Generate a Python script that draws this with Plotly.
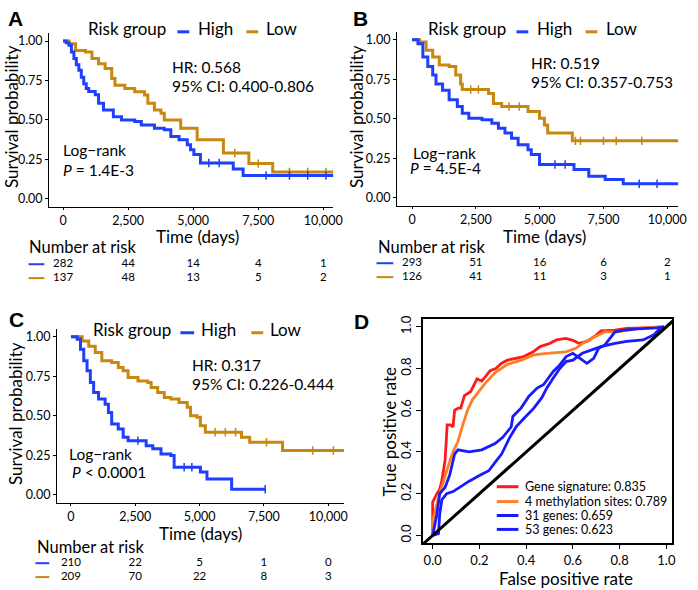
import numpy as np
import plotly.graph_objects as go

W, H = 698, 590
FONT = "Lato"
BLUE = "#1F3FFF"
GOLD = "#C8870F"

# ---------------- data ----------------
RISK_TIMES = [0, 2500, 5000, 7500, 10000]
TICK_LABELS_X = ["0", "2,500", "5,000", "7,500", "10,000"]
TICK_VALS_Y = [0, 0.25, 0.5, 0.75, 1.0]
TICK_LABELS_Y = ["0.00", "0.25", "0.50", "0.75", "1.00"]

# Panel A
A_HIGH_T = [0, 120, 227, 320, 417, 510, 606, 700, 795, 890, 985, 1237, 1364, 1553, 1932, 2247, 2752, 3005, 3510, 3889, 4141, 4457, 4773, 4899, 5026, 5278, 6540, 6919, 10500]
A_HIGH_S = [1.0, 0.99, 0.973, 0.93, 0.889, 0.85, 0.815, 0.77, 0.73, 0.70, 0.68, 0.66, 0.605, 0.563, 0.52, 0.50, 0.49, 0.468, 0.447, 0.437, 0.395, 0.374, 0.342, 0.311, 0.28, 0.227, 0.189, 0.147, 0.147]
A_LOW_T = [0, 227, 480, 858, 1111, 1364, 1616, 1869, 1995, 2374, 2753, 3131, 3258, 3510, 3763, 3889, 4520, 5152, 6161, 7140, 8055, 10500]
A_LOW_S = [1.0, 0.983, 0.94, 0.93, 0.889, 0.857, 0.826, 0.763, 0.72, 0.70, 0.678, 0.658, 0.605, 0.563, 0.542, 0.50, 0.447, 0.374, 0.29, 0.223, 0.17, 0.17]
A_HIGH_CENS = [5600, 6000, 7800, 8700, 9400, 10100]
A_LOW_CENS = [6600, 7500, 8700, 9400, 10100]
A_RISK_HIGH = [282, 44, 14, 4, 1]
A_RISK_LOW = [137, 48, 13, 5, 2]

# Panel B
B_HIGH_T = [0, 232, 425, 618, 811, 940, 1197, 1454, 1776, 1969, 2226, 2741, 3127, 3385, 3642, 3900, 4157, 4543, 4672, 4993, 6345, 6924, 7568, 8275, 10500]
B_HIGH_S = [1.0, 0.975, 0.89, 0.83, 0.776, 0.72, 0.68, 0.62, 0.577, 0.535, 0.503, 0.493, 0.472, 0.44, 0.41, 0.377, 0.335, 0.304, 0.273, 0.21, 0.178, 0.136, 0.115, 0.088, 0.088]
B_LOW_T = [0, 296, 553, 811, 1068, 1454, 1712, 1905, 1969, 2999, 3192, 3513, 4543, 4993, 5186, 5315, 6280, 10500]
B_LOW_S = [1.0, 0.985, 0.933, 0.89, 0.84, 0.83, 0.776, 0.72, 0.685, 0.66, 0.597, 0.577, 0.545, 0.503, 0.461, 0.41, 0.36, 0.36]
B_HIGH_CENS = [5600, 6000, 8900, 9600]
B_LOW_CENS = [2300, 2600, 3800, 4200, 6400, 6600, 7500, 8000, 9000]
B_RISK_HIGH = [293, 51, 16, 6, 2]
B_RISK_LOW = [126, 41, 11, 3, 1]

# Panel C
C_HIGH_T = [0, 243, 370, 498, 626, 754, 881, 1073, 1328, 1456, 1583, 1839, 2030, 2222, 2924, 3180, 3499, 3882, 4010, 5031, 5287, 6245, 7550]
C_HIGH_S = [1.0, 0.983, 0.92, 0.847, 0.784, 0.71, 0.647, 0.605, 0.573, 0.52, 0.447, 0.416, 0.363, 0.342, 0.31, 0.29, 0.258, 0.248, 0.174, 0.143, 0.10, 0.034, 0.034]
C_LOW_T = [0, 434, 690, 945, 1200, 1583, 1839, 2030, 2222, 2605, 2988, 3116, 3371, 3627, 3882, 4201, 4520, 4648, 4903, 5031, 5223, 6628, 6947, 8224, 10800]
C_LOW_S = [1.0, 0.973, 0.94, 0.90, 0.847, 0.836, 0.805, 0.784, 0.742, 0.72, 0.71, 0.678, 0.647, 0.615, 0.605, 0.584, 0.553, 0.50, 0.49, 0.437, 0.395, 0.363, 0.332, 0.28, 0.28]
C_HIGH_CENS = [2600, 4400, 4700, 7550]
C_LOW_CENS = [5600, 6000, 6400, 7600, 9400, 10200]
C_RISK_HIGH = [210, 22, 5, 1, 0]
C_RISK_LOW = [209, 70, 22, 8, 3]

# Panel D (ROC)
ROC_NAMES = ["Gene signature: 0.835", "4 methylation sites: 0.789", "31 genes: 0.659", "53 genes: 0.623"]
ROC_COLORS = ["#FF1A1A", "#FF7F24", "#1A1AFF", "#1A1AFF"]
GS_FPR = [0, 0, 0.018, 0.03, 0.039, 0.053, 0.058, 0.062, 0.075, 0.087, 0.094, 0.11, 0.12, 0.136, 0.15, 0.163, 0.19, 0.21, 0.225, 0.246, 0.27, 0.295, 0.32, 0.36, 0.39, 0.43, 0.46, 0.50, 0.53, 0.57, 0.60, 0.627, 0.66, 0.70, 0.72, 0.78, 0.83, 0.90, 0.99]
GS_TPR = [0, 0.16, 0.20, 0.22, 0.26, 0.36, 0.45, 0.53, 0.53, 0.52, 0.60, 0.61, 0.61, 0.67, 0.68, 0.69, 0.75, 0.74, 0.76, 0.79, 0.80, 0.825, 0.84, 0.85, 0.857, 0.88, 0.905, 0.92, 0.937, 0.944, 0.935, 0.92, 0.93, 0.96, 0.98, 0.984, 0.992, 0.995, 1.0]
ME_FPR = [0, 0, 0.025, 0.046, 0.066, 0.087, 0.108, 0.129, 0.149, 0.17, 0.198, 0.225, 0.267, 0.32, 0.378, 0.433, 0.488, 0.57, 0.613, 0.654, 0.71, 0.737, 0.79, 0.875, 0.96, 0.99]
ME_TPR = [0, 0.07, 0.18, 0.26, 0.33, 0.40, 0.45, 0.53, 0.60, 0.65, 0.69, 0.73, 0.78, 0.82, 0.84, 0.865, 0.873, 0.88, 0.897, 0.93, 0.96, 0.976, 0.976, 0.99, 1.0, 1.0]
G31_FPR = [0, 0.018, 0.03, 0.053, 0.073, 0.094, 0.108, 0.156, 0.21, 0.267, 0.30, 0.336, 0.343, 0.378, 0.412, 0.447, 0.474, 0.495, 0.516, 0.544, 0.571, 0.60, 0.627, 0.66, 0.689, 0.71, 0.737, 0.758, 0.78, 0.82, 0.875, 0.96, 0.99]
G31_TPR = [0, 0.10, 0.20, 0.23, 0.29, 0.39, 0.41, 0.40, 0.41, 0.44, 0.47, 0.52, 0.57, 0.61, 0.667, 0.706, 0.722, 0.754, 0.786, 0.817, 0.857, 0.873, 0.85, 0.825, 0.849, 0.897, 0.913, 0.944, 0.976, 0.984, 0.99, 0.995, 1.0]
G53_FPR = [0, 0.025, 0.03, 0.039, 0.06, 0.087, 0.115, 0.156, 0.198, 0.24, 0.267, 0.295, 0.33, 0.357, 0.39, 0.433, 0.467, 0.488, 0.516, 0.544, 0.571, 0.60, 0.64, 0.68, 0.72, 0.78, 0.83, 0.90, 0.945, 0.98]
G53_TPR = [0, 0.008, 0.10, 0.17, 0.20, 0.21, 0.23, 0.26, 0.286, 0.31, 0.35, 0.39, 0.47, 0.52, 0.56, 0.61, 0.66, 0.706, 0.754, 0.80, 0.833, 0.84, 0.873, 0.889, 0.905, 0.92, 0.93, 0.937, 0.96, 1.0]
ROC_FPR = [GS_FPR, ME_FPR, G31_FPR, G53_FPR]
ROC_TPR = [GS_TPR, ME_TPR, G31_TPR, G53_TPR]


def fx(px):
    return px / W


def fy(py):
    return 1 - py / H


fig = go.Figure()

km_panels = [
    ("", "5", A_HIGH_T, A_HIGH_S, A_LOW_T, A_LOW_S, A_HIGH_CENS, A_LOW_CENS, A_RISK_HIGH, A_RISK_LOW),
    ("2", "6", B_HIGH_T, B_HIGH_S, B_LOW_T, B_LOW_S, B_HIGH_CENS, B_LOW_CENS, B_RISK_HIGH, B_RISK_LOW),
    ("3", "7", C_HIGH_T, C_HIGH_S, C_LOW_T, C_LOW_S, C_HIGH_CENS, C_LOW_CENS, C_RISK_HIGH, C_RISK_LOW),
]


def step_at(T, S, t):
    T = np.asarray(T)
    S = np.asarray(S)
    idx = np.searchsorted(T, t, side="right") - 1
    return S[np.clip(idx, 0, len(S) - 1)]


for suf, tsuf, hT, hS, lT, lS, hC, lC, rH, rL in km_panels:
    xa, ya = "x" + suf, "y" + suf
    for T, S, C, col in [(lT, lS, lC, GOLD), (hT, hS, hC, BLUE)]:
        fig.add_trace(go.Scatter(x=T, y=S, mode="lines", line=dict(color=col, width=3, shape="hv"),
                                 xaxis=xa, yaxis=ya, showlegend=False, hoverinfo="skip"))
        cy = step_at(T, S, C)
        fig.add_trace(go.Scatter(x=C, y=cy, mode="markers",
                                 marker=dict(symbol="line-ns", size=6, line=dict(color=col, width=1.5)),
                                 xaxis=xa, yaxis=ya, showlegend=False, hoverinfo="skip"))
    txa, tya = "x" + tsuf, "y" + tsuf
    for yv, vals in [(1, rH), (0, rL)]:
        fig.add_trace(go.Scatter(x=RISK_TIMES, y=[yv] * 5, mode="text", text=[str(v) for v in vals],
                                 textfont=dict(family=FONT, size=11.5, color="black"), cliponaxis=False,
                                 xaxis=txa, yaxis=tya, showlegend=False, hoverinfo="skip"))

# ROC
for f, t, c in zip(ROC_FPR, ROC_TPR, ROC_COLORS):
    fig.add_trace(go.Scatter(x=f, y=t, mode="lines", line=dict(color=c, width=2.8),
                             xaxis="x4", yaxis="y4", showlegend=False, hoverinfo="skip"))
fig.add_trace(go.Scatter(x=[-0.06, 1.06], y=[-0.06, 1.06], mode="lines", line=dict(color="black", width=3),
                         xaxis="x4", yaxis="y4", showlegend=False, hoverinfo="skip"))

km_ax = dict(showline=True, linecolor="black", linewidth=1.3, ticks="outside", ticklen=3, tickcolor="black",
             tickwidth=1.3, showgrid=False, zeroline=False,
             tickfont=dict(family=FONT, size=12.5, color="black"))

layout = dict(width=W, height=H, margin=dict(l=0, r=0, t=0, b=0), plot_bgcolor="white",
              paper_bgcolor="white", showlegend=False, font=dict(family=FONT, color="black"))

km_geom = {
    "": ((50, 338), (-530, 10379), (204, 29.4)),
    "2": ((403, 688), (-579, 10425), (203, 28)),
    "3": ((58, 349), (-536, 10613), (502, 327)),
}
for suf, (xd, xr, yd) in km_geom.items():
    layout["xaxis" + suf] = dict(km_ax, domain=[fx(xd[0]), fx(xd[1])], range=list(xr), ticklen=2,
                                 tickvals=RISK_TIMES, ticktext=TICK_LABELS_X, anchor="y" + suf)
    layout["yaxis" + suf] = dict(km_ax, domain=[fy(yd[0]), fy(yd[1])], range=[-0.05, 1.05],
                                 tickvals=TICK_VALS_Y, ticktext=TICK_LABELS_Y, anchor="x" + suf)

# risk-table rows: (blue row px, orange row px)
tbl_geom = {"5": ("", (262, 276)), "6": ("2", (261, 275)), "7": ("3", (563, 577))}
for tsuf, (psuf, (r1, r0)) in tbl_geom.items():
    xd, xr, _ = km_geom[psuf]
    step = r0 - r1
    layout["xaxis" + tsuf] = dict(domain=[fx(xd[0]), fx(xd[1])], range=list(xr), visible=False, anchor="y" + tsuf)
    layout["yaxis" + tsuf] = dict(domain=[fy(r0 + step / 2), fy(r1 - step / 2)], range=[-0.5, 1.5],
                                  visible=False, anchor="x" + tsuf)

roc_ticks = [0, 0.2, 0.4, 0.6, 0.8, 1.0]
roc_labels = ["0.0", "0.2", "0.4", "0.6", "0.8", "1.0"]
layout["xaxis4"] = dict(domain=[fx(429), fx(682)], range=[-0.042, 1.025], showline=True, mirror=True,
                        linecolor="black", linewidth=1.5, ticks="outside", ticklen=4, tickcolor="black",
                        showgrid=False, zeroline=False, tickvals=roc_ticks, ticktext=roc_labels,
                        tickfont=dict(family=FONT, size=13, color="black"), anchor="y4")
layout["yaxis4"] = dict(domain=[fy(543), fy(317)], range=[-0.038, 1.038], showline=True, mirror=True,
                        linecolor="black", linewidth=1.5, ticks="outside", ticklen=5, tickcolor="black",
                        showgrid=False, zeroline=False, tickvals=roc_ticks, ticktext=roc_labels, tickangle=-90,
                        tickfont=dict(family=FONT, size=13, color="black"), anchor="x4")

annotations = []
shapes = []


def ann(text, px, py, size, xanchor="left", angle=0, family=FONT, color="black"):
    annotations.append(dict(text=text, x=fx(px), y=fy(py), xref="paper", yref="paper", showarrow=False,
                            xanchor=xanchor, yanchor="middle", textangle=angle,
                            font=dict(family=family, size=size, color=color)))


def dash(x0, x1, py, col, w=3):
    shapes.append(dict(type="line", xref="paper", yref="paper", x0=fx(x0), x1=fx(x1), y0=fy(py), y1=fy(py),
                       line=dict(color=col, width=w)))


for L, px, py in [("A", 16, 15), ("B", 366, 15), ("C", 17, 318), ("D", 367, 320)]:
    ann("<b>%s</b>" % L, px, py, 21, xanchor="center", family="Liberation Sans")

# Panel A texts
ann("Risk group", 87, 25, 17)
dash(180, 192, 28, BLUE)
ann("High", 199, 25, 17)
dash(250, 262, 28, GOLD)
ann("Low", 268, 25, 17)
ann("HR: 0.568", 172, 63, 15.5)
ann("95% CI: 0.400-0.806", 172, 83, 15.5)
ann("Log\u2212rank", 62, 147, 15.5)
ann("<i>P</i> = 1.4E-3", 62, 167, 15.5)
ann("Survival probability", 11, 113, 17, xanchor="center", angle=-90)
ann("Time (days)", 200, 234.5, 17, xanchor="center")
ann("Number at risk", 27, 245, 16.5)
dash(29, 45, 262, BLUE, 2)
dash(29, 45, 276, GOLD, 2)

# Panel B texts
ann("Risk group", 432, 25, 17)
dash(524, 536, 28, BLUE)
ann("High", 543, 25, 17)
dash(594, 606, 28, GOLD)
ann("Low", 613, 25, 17)
ann("HR: 0.519", 537, 59, 15.5)
ann("95% CI: 0.357-0.753", 537, 79, 15.5)
ann("Log\u2212rank", 417, 150, 15.5)
ann("<i>P</i> = 4.5E-4", 414, 165, 15.5)
ann("Survival probability", 361, 113, 17, xanchor="center", angle=-90)
ann("Time (days)", 552, 234, 17, xanchor="center")
ann("Number at risk", 381, 245, 16.5)
dash(382, 399, 261, BLUE, 2)
dash(382, 399, 275, GOLD, 2)

# Panel C texts
ann("Risk group", 92, 328, 17)
dash(183, 197, 331, BLUE)
ann("High", 202, 328, 17)
dash(255, 267, 331, GOLD)
ann("Low", 272, 328, 17)
ann("HR: 0.317", 193, 363, 15.5)
ann("95% CI: 0.226-0.444", 193, 383, 15.5)
ann("Log\u2212rank", 68, 453, 15.5)
ann("<i>P</i> < 0.0001", 71, 471, 15.5)
ann("Survival probability", 15, 412, 17, xanchor="center", angle=-90)
ann("Time (days)", 203, 533, 17, xanchor="center")
ann("Number at risk", 36, 547, 16.5)
dash(36, 50, 563, BLUE, 2)
dash(36, 50, 577, GOLD, 2)

# Panel D texts
ann("True positive rate", 395, 430, 17, xanchor="center", angle=-90)
ann("False positive rate", 574, 578, 17, xanchor="center")
for name, col, py in zip(ROC_NAMES, ROC_COLORS, [486, 501, 515, 529]):
    dash(504, 526, py, col, 3)
    ann(name, 531, py, 12.5)

layout["annotations"] = annotations
layout["shapes"] = shapes
fig.update_layout(**layout)
fig.write_html("out.html")
